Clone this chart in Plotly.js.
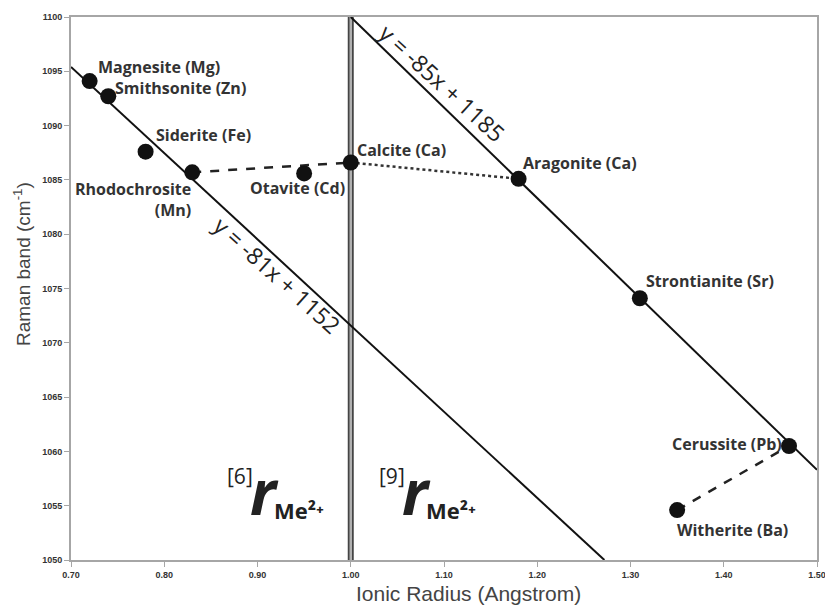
<!DOCTYPE html>
<html><head><meta charset="utf-8">
<script src="https://cdn.plot.ly/plotly-3.0.1.min.js"></script>
<style>body{margin:0;background:#fff}#c{width:825px;height:607px}</style>
</head><body><div id="c"></div>
<script>
// Minerals (ionic radius in Angstrom, Raman band in cm-1)
const minerals = ["Magnesite (Mg)","Smithsonite (Zn)","Siderite (Fe)","Rhodochrosite<br>(Mn)","Otavite (Cd)","Calcite (Ca)","Aragonite (Ca)","Strontianite (Sr)","Cerussite (Pb)","Witherite (Ba)"];
const radius = [0.72, 0.74, 0.78, 0.83, 0.95, 1.00, 1.18, 1.31, 1.47, 1.35];
const raman  = [1094.1, 1092.7, 1087.6, 1085.7, 1085.6, 1086.6, 1085.1, 1074.1, 1060.5, 1054.6];
// Label positions for each mineral
const labelX = [0.794, 0.817, 0.842, 0.831, 0.943, 1.054, 1.246, 1.385, 1.403, 1.409];
const labelY = [1095.4, 1093.5, 1089.1, 1083.15, 1084.3, 1087.75, 1086.6, 1075.7, 1060.7, 1052.8];
const labelAnchor = ["center","center","center","right","center","center","center","center","center","center"];

// Trend lines (6-fold and 9-fold coordination)
const fit6X = [0.70, 1.272];
const fit6Y = [1095.4, 1050];
const fit9X = [1.00, 1.50];
const fit9Y = [1100, 1058.3];
// Connectors
const dashAX = [0.83, 1.00];  const dashAY = [1085.7, 1086.6];
const dotX   = [1.00, 1.18];  const dotY   = [1086.6, 1085.1];
const dashBX = [1.35, 1.47];  const dashBY = [1054.6, 1060.5];
// Boundary between coordinations
const boundX = [1.0, 1.0]; const boundY = [1050, 1100];

const xTicks = [0.70,0.80,0.90,1.00,1.10,1.20,1.30,1.40,1.50];
const yTicks = [1050,1055,1060,1065,1070,1075,1080,1085,1090,1095,1100];

const lab = "Open Sans, Noto Sans, sans-serif";
const ax = "Arial, Liberation Sans, sans-serif";
const traces = [
  {x: boundX, y: boundY, mode:'lines', line:{color:'#444', width:6}, hoverinfo:'skip'},
  {x: boundX, y: boundY, mode:'lines', line:{color:'#b0b0b0', width:2.5}, hoverinfo:'skip'},
  {x: fit6X, y: fit6Y, mode:'lines', line:{color:'#111', width:2}},
  {x: fit9X, y: fit9Y, mode:'lines', line:{color:'#111', width:2}},
  {x: dashAX, y: dashAY, mode:'lines', line:{color:'#222', width:2.5, dash:'dash'}},
  {x: dotX, y: dotY, mode:'lines', line:{color:'#333', width:2.5, dash:'dot'}},
  {x: dashBX, y: dashBY, mode:'lines', line:{color:'#222', width:2.5, dash:'dash'}},
  {x: radius, y: raman, mode:'markers', marker:{color:'#111', size:16}}
];

const annotations = minerals.map((m,i)=>({
  x: labelX[i], y: labelY[i], text: '<b>'+m+'</b>', showarrow:false,
  xref:'x', yref:'y', xanchor: labelAnchor[i], align: labelAnchor[i],
  font:{family:lab, size:16, color:'#333'}
}));
annotations.push(
  {x:0.921, y:1076.2, text:'y = -81x + 1152', textangle:42, showarrow:false, font:{family:lab, size:23, color:'#222'}},
  {x:1.098, y:1093.9, text:'y = -85x + 1185', textangle:42.5, showarrow:false, font:{family:lab, size:23, color:'#222'}},
  {x:0.881, y:1057.7, text:'[6]', showarrow:false, font:{family:lab, size:21, color:'#222'}},
  {x:0.908, y:1056.4, text:'<b><i>r</i></b>', showarrow:false, font:{family:lab, size:62, color:'#222'}},
  {x:0.944, y:1054.6, text:'<b>Me²⁺</b>', showarrow:false, font:{family:lab, size:22, color:'#222'}},
  {x:1.0442, y:1057.7, text:'[9]', showarrow:false, font:{family:lab, size:21, color:'#222'}},
  {x:1.071, y:1056.4, text:'<b><i>r</i></b>', showarrow:false, font:{family:lab, size:62, color:'#222'}},
  {x:1.108, y:1054.6, text:'<b>Me²⁺</b>', showarrow:false, font:{family:lab, size:22, color:'#222'}},
  // axis titles
  {xref:'paper', yref:'paper', x:-0.0657, y:0.545, xanchor:'center', yanchor:'middle',
    text:'Raman band (cm<sup>-1</sup>)', textangle:-90, showarrow:false,
    font:{family:ax, size:19, color:'#444'}},
  {xref:'paper', yref:'paper', x:0.5335, y:-0.0626, xanchor:'center', yanchor:'middle',
    text:'Ionic Radius (Angstrom)', showarrow:false,
    font:{family:ax, size:21, color:'#444'}}
);

const layout = {
  width:825, height:607, showlegend:false,
  margin:{l:71, r:8, t:17, b:47},
  paper_bgcolor:'#fff', plot_bgcolor:'#fff',
  xaxis:{range:[0.70,1.50], tickvals:xTicks, tickformat:'.2f', showgrid:false, zeroline:false,
    showline:true, linecolor:'#a6a6a6', linewidth:2, mirror:true, ticks:'outside', ticklen:5, tickcolor:'#a6a6a6',
    ticklabeloverflow:'allow',
    tickfont:{family:ax, size:9, color:'#333', weight:'bold'}},
  yaxis:{range:[1050,1100], tickvals:yTicks, showgrid:false, zeroline:false,
    showline:true, linecolor:'#a6a6a6', linewidth:2, mirror:true, ticks:'outside', ticklen:5, tickcolor:'#a6a6a6',
    tickfont:{family:ax, size:9, color:'#333', weight:'bold'}},
  annotations: annotations
};
Plotly.newPlot('c', traces, layout, {displayModeBar:false, staticPlot:true});
</script></body></html>
